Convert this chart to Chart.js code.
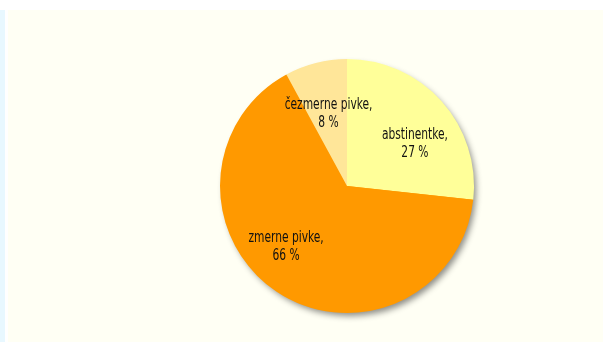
<!doctype html>
<html lang="sl">
  <head>
    <meta charset="utf-8">
    <title>Pitje piva</title>
    <style>
      * { margin: 0; padding: 0; }
      body { width: 603px; height: 342px; background: #fff; position: relative; overflow: hidden; }
      .strip { position: absolute; left: 0; top: 10px; width: 5px; height: 332px; background: #e8f8ff; }
      .chartBox { position: absolute; left: 8px; top: 10px; width: 595px; height: 332px; background: #fffff4; }
    </style>
  </head>
  <body>
    <div class="strip"></div>
    <div class="chartBox">
      <canvas id="myChart"></canvas>
    </div>
    <script src="https://cdn.jsdelivr.net/npm/chart.js"></script>
    <script>
    // setup
    const categories = ['abstinentke', 'zmerne pivke', 'čezmerne pivke'];
    const shares = [27, 66, 8];
    const sliceColors = ['#ffff99', '#ff9900', '#ffe699'];
    // label placement: fraction of radius and turn (degrees) off the slice middle
    const labelRadius = [0.63, 0.68, 0.59];
    const labelTurn = [10, 11, 0];

    const FONT = "'DejaVu Sans Condensed', 'Liberation Sans Narrow', sans-serif";
    const SQUEEZE = 0.72; // narrow the label glyphs

    // soft shadow under the whole pie
    const pieShadow = {
      id: 'pieShadow',
      beforeDatasetsDraw(chart) {
        const arc = chart.getDatasetMeta(0).data[0];
        if (!arc) return;
        const ctx = chart.ctx;
        ctx.save();
        ctx.shadowColor = 'rgba(0,0,0,0.45)';
        ctx.shadowBlur = 6;
        ctx.shadowOffsetX = 3;
        ctx.shadowOffsetY = 4;
        ctx.fillStyle = '#ff9900';
        ctx.beginPath();
        ctx.arc(arc.x, arc.y, arc.outerRadius - 1, 0, Math.PI * 2);
        ctx.fill();
        ctx.restore();
      }
    };

    // "name,\nNN %" labels inside the slices
    const sliceLabels = {
      id: 'sliceLabels',
      afterDatasetsDraw(chart) {
        const ctx = chart.ctx;
        const meta = chart.getDatasetMeta(0);
        meta.data.forEach((arc, i) => {
          const mid = (arc.startAngle + arc.endAngle) / 2 + labelTurn[i] * Math.PI / 180;
          const r = arc.outerRadius * labelRadius[i];
          const x = arc.x + Math.cos(mid) * r;
          const y = arc.y + Math.sin(mid) * r;
          ctx.save();
          ctx.translate(x, y);
          ctx.scale(SQUEEZE, 1);
          ctx.font = '16.5px ' + FONT;
          ctx.fillStyle = '#111';
          ctx.textAlign = 'center';
          ctx.textBaseline = 'middle';
          ctx.fillText(categories[i] + ',', 0, -9);
          ctx.fillText(shares[i] + ' %', 0, 9);
          ctx.restore();
        });
      }
    };

    const data = {
      labels: categories,
      datasets: [{
        data: shares,
        backgroundColor: sliceColors,
        borderWidth: 0
      }]
    };

    // config
    const config = {
      type: 'pie',
      data,
      options: {
        responsive: true,
        maintainAspectRatio: false,
        animation: false,
        layout: {
          padding: { left: 212, right: 129, top: 49, bottom: 29 }
        },
        plugins: {
          legend: { display: false },
          tooltip: { enabled: false }
        }
      },
      plugins: [pieShadow, sliceLabels]
    };

    // render init block
    const myChart = new Chart(document.getElementById('myChart'), config);
    </script>
  </body>
</html>
